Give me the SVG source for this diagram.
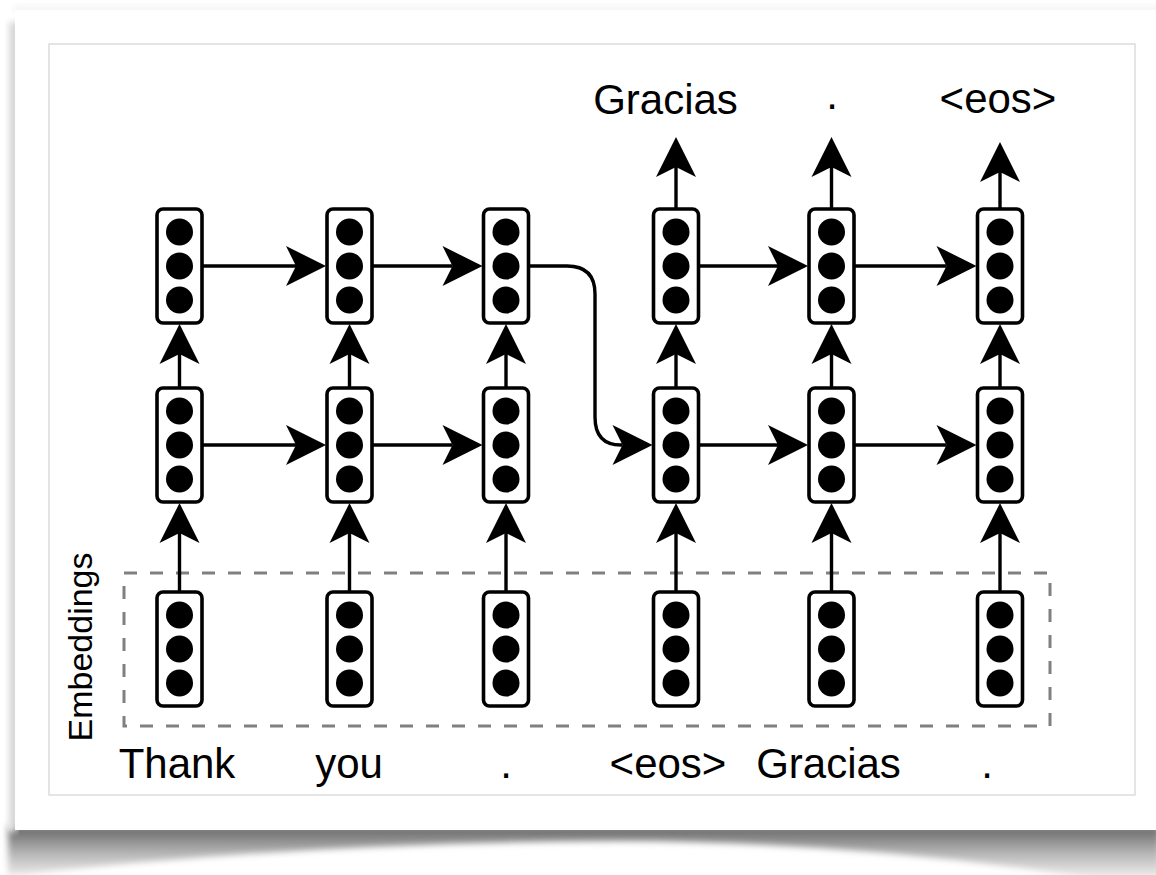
<svg xmlns="http://www.w3.org/2000/svg" width="1156" height="875" viewBox="0 0 1156 875">
<style>
.node rect{fill:#fff;stroke:#000;stroke-width:3.6}
.node circle{fill:#000}
.edge{fill:none;stroke:#000;stroke-width:3.4;marker-end:url(#arr)}
.lbl{font-family:"Liberation Sans",Arial,Helvetica,sans-serif;font-size:42px;fill:#000;text-anchor:middle}
</style>
<defs>
<marker id="arr" markerUnits="userSpaceOnUse" markerWidth="42" markerHeight="42" viewBox="0 -21 42 42" refX="10" refY="0" orient="auto" overflow="visible">
<path d="M0,-20 L40,0 L0,20 L10,0 Z" fill="#000"/>
</marker>
<linearGradient id="shg" x1="0" y1="828" x2="0" y2="884" gradientUnits="userSpaceOnUse">
<stop offset="0" stop-color="#6a6a6a"/>
<stop offset="0.45" stop-color="#b5b5b5"/>
<stop offset="1" stop-color="#fff"/>
</linearGradient>
<linearGradient id="lsg" x1="6" y1="0" x2="16" y2="0" gradientUnits="userSpaceOnUse">
<stop offset="0" stop-color="#fff"/>
<stop offset="1" stop-color="#c4c4c4"/>
</linearGradient>
<filter id="blur" x="-5%" y="-50%" width="110%" height="200%"><feGaussianBlur stdDeviation="3"/></filter>
<g id="dots"><circle cx="0" cy="-34" r="13.5"/><circle cx="0" cy="0" r="13.5"/><circle cx="0" cy="34" r="13.5"/></g>
</defs>
<rect x="0" y="0" width="1156" height="875" fill="#fff"/>
<!-- page shadow -->
<g id="shadow">
<path d="M8,826 L1160,826 L1160,890 Q900,842 620,841 Q300,842 8,876 Z" fill="url(#shg)" filter="url(#blur)"/>
<rect x="6" y="22" width="12" height="810" fill="url(#lsg)" filter="url(#blur)"/>
<rect x="14" y="6" width="1150" height="6" fill="#f3f3f3" filter="url(#blur)"/>
</g>
<rect x="15" y="10" width="1145" height="820" fill="#fff"/>
<rect x="49" y="44" width="1086" height="751" fill="#fff" stroke="#dcdcdc" stroke-width="1.5"/>
<!-- embeddings box -->
<g id="embeddings">
<rect x="124" y="573" width="926" height="153" fill="none" stroke="#808080" stroke-width="3" stroke-dasharray="13 13"/>
<text class="lbl" style="font-size:34px" transform="translate(92,647) rotate(-90)">Embeddings</text>
</g>
<!-- connectors -->
<g id="connectors">
<path class="edge" d="M202,266 H296"/>
<path class="edge" d="M372,266 H452.5"/>
<path class="edge" d="M698.5,266 H778"/>
<path class="edge" d="M854,266 H946.5"/>
<path class="edge" d="M202,445 H296"/>
<path class="edge" d="M372,445 H452.5"/>
<path class="edge" d="M698.5,445 H778"/>
<path class="edge" d="M854,445 H946.5"/>
<path class="edge" d="M528.5,266 H567 Q595,266 595,294 V417 Q595,445 621,445 H622.5"/>
<path class="edge" d="M179.5,388 V354"/>
<path class="edge" d="M349.5,388 V354"/>
<path class="edge" d="M506,388 V354"/>
<path class="edge" d="M676,388 V354"/>
<path class="edge" d="M831.5,388 V354"/>
<path class="edge" d="M1000,388 V354"/>
<path class="edge" d="M179.5,592 V533"/>
<path class="edge" d="M349.5,592 V533"/>
<path class="edge" d="M506,592 V533"/>
<path class="edge" d="M676,592 V533"/>
<path class="edge" d="M831.5,592 V533"/>
<path class="edge" d="M1000,592 V533"/>
<path class="edge" d="M676,209 V167"/>
<path class="edge" d="M831.5,209 V167"/>
<path class="edge" d="M1000,209 V172"/>
</g>
<!-- nodes: top row -->
<g id="h2_1" class="node"><rect x="157" y="209" width="45" height="114" rx="6"/><use href="#dots" x="179.5" y="266"/></g>
<g id="h2_2" class="node"><rect x="327" y="209" width="45" height="114" rx="6"/><use href="#dots" x="349.5" y="266"/></g>
<g id="h2_3" class="node"><rect x="483.5" y="209" width="45" height="114" rx="6"/><use href="#dots" x="506" y="266"/></g>
<g id="h2_4" class="node"><rect x="653.5" y="209" width="45" height="114" rx="6"/><use href="#dots" x="676" y="266"/></g>
<g id="h2_5" class="node"><rect x="809" y="209" width="45" height="114" rx="6"/><use href="#dots" x="831.5" y="266"/></g>
<g id="h2_6" class="node"><rect x="977.5" y="209" width="45" height="114" rx="6"/><use href="#dots" x="1000" y="266"/></g>
<!-- nodes: middle row -->
<g id="h1_1" class="node"><rect x="157" y="388" width="45" height="114" rx="6"/><use href="#dots" x="179.5" y="445"/></g>
<g id="h1_2" class="node"><rect x="327" y="388" width="45" height="114" rx="6"/><use href="#dots" x="349.5" y="445"/></g>
<g id="h1_3" class="node"><rect x="483.5" y="388" width="45" height="114" rx="6"/><use href="#dots" x="506" y="445"/></g>
<g id="h1_4" class="node"><rect x="653.5" y="388" width="45" height="114" rx="6"/><use href="#dots" x="676" y="445"/></g>
<g id="h1_5" class="node"><rect x="809" y="388" width="45" height="114" rx="6"/><use href="#dots" x="831.5" y="445"/></g>
<g id="h1_6" class="node"><rect x="977.5" y="388" width="45" height="114" rx="6"/><use href="#dots" x="1000" y="445"/></g>
<!-- nodes: embeddings -->
<g id="e_1" class="node"><rect x="157" y="592" width="45" height="114" rx="6"/><use href="#dots" x="179.5" y="649"/></g>
<g id="e_2" class="node"><rect x="327" y="592" width="45" height="114" rx="6"/><use href="#dots" x="349.5" y="649"/></g>
<g id="e_3" class="node"><rect x="483.5" y="592" width="45" height="114" rx="6"/><use href="#dots" x="506" y="649"/></g>
<g id="e_4" class="node"><rect x="653.5" y="592" width="45" height="114" rx="6"/><use href="#dots" x="676" y="649"/></g>
<g id="e_5" class="node"><rect x="809" y="592" width="45" height="114" rx="6"/><use href="#dots" x="831.5" y="649"/></g>
<g id="e_6" class="node"><rect x="977.5" y="592" width="45" height="114" rx="6"/><use href="#dots" x="1000" y="649"/></g>
<!-- labels -->
<g id="labels">
<text class="lbl" x="665.5" y="114">Gracias</text>
<text class="lbl" x="832" y="109">.</text>
<text class="lbl" x="998" y="113">&lt;eos&gt;</text>
<text class="lbl" x="177" y="778">Thank</text>
<text class="lbl" x="349" y="778">you</text>
<text class="lbl" x="506" y="778">.</text>
<text class="lbl" x="668" y="778">&lt;eos&gt;</text>
<text class="lbl" x="828.5" y="778">Gracias</text>
<text class="lbl" x="987" y="778">.</text>
</g>
</svg>
